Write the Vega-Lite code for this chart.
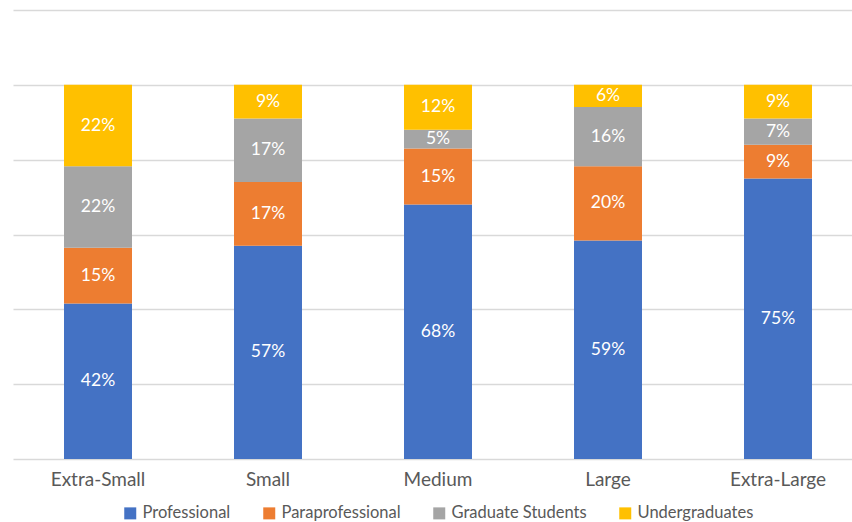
{
  "$schema": "https://vega.github.io/schema/vega-lite/v6.json",
  "autosize": {"type": "none"},
  "padding": {"left": 13, "top": 10, "right": 0, "bottom": 63},
  "width": 850,
  "height": 449,
  "background": "white",
  "data": {
    "values": [
      {"size": "Extra-Small", "group": "Professional", "rank": 1, "share": 0.42},
      {"size": "Extra-Small", "group": "Paraprofessional", "rank": 2, "share": 0.15},
      {"size": "Extra-Small", "group": "Graduate Students", "rank": 3, "share": 0.22},
      {"size": "Extra-Small", "group": "Undergraduates", "rank": 4, "share": 0.22},
      {"size": "Small", "group": "Professional", "rank": 1, "share": 0.57},
      {"size": "Small", "group": "Paraprofessional", "rank": 2, "share": 0.17},
      {"size": "Small", "group": "Graduate Students", "rank": 3, "share": 0.17},
      {"size": "Small", "group": "Undergraduates", "rank": 4, "share": 0.09},
      {"size": "Medium", "group": "Professional", "rank": 1, "share": 0.68},
      {"size": "Medium", "group": "Paraprofessional", "rank": 2, "share": 0.15},
      {"size": "Medium", "group": "Graduate Students", "rank": 3, "share": 0.05},
      {"size": "Medium", "group": "Undergraduates", "rank": 4, "share": 0.12},
      {"size": "Large", "group": "Professional", "rank": 1, "share": 0.59},
      {"size": "Large", "group": "Paraprofessional", "rank": 2, "share": 0.20},
      {"size": "Large", "group": "Graduate Students", "rank": 3, "share": 0.16},
      {"size": "Large", "group": "Undergraduates", "rank": 4, "share": 0.06},
      {"size": "Extra-Large", "group": "Professional", "rank": 1, "share": 0.75},
      {"size": "Extra-Large", "group": "Paraprofessional", "rank": 2, "share": 0.09},
      {"size": "Extra-Large", "group": "Graduate Students", "rank": 3, "share": 0.07},
      {"size": "Extra-Large", "group": "Undergraduates", "rank": 4, "share": 0.09}
    ]
  },
  "transform": [
    {
      "stack": "share",
      "groupby": ["size"],
      "sort": [{"field": "rank", "order": "ascending"}],
      "offset": "normalize",
      "as": ["lo", "hi"]
    },
    {"calculate": "(datum.lo + datum.hi) / 2", "as": "mid"}
  ],
  "encoding": {
    "x": {
      "field": "size",
      "type": "nominal",
      "sort": ["Extra-Small", "Small", "Medium", "Large", "Extra-Large"],
      "scale": {"paddingInner": 0.6, "paddingOuter": 0.3},
      "axis": {
        "title": null,
        "labelAngle": 0,
        "domain": false,
        "ticks": false,
        "labelPadding": 11,
        "labelFont": "Lato",
        "labelFontSize": 19,
        "labelColor": "#595959"
      }
    }
  },
  "layer": [
    {
      "mark": {"type": "bar"},
      "encoding": {
        "y": {
          "field": "lo",
          "type": "quantitative",
          "scale": {"domain": [0, 1.2], "nice": false, "zero": true},
          "axis": {
            "title": null,
            "labels": false,
            "ticks": false,
            "domain": false,
            "values": [0, 0.2, 0.4, 0.6, 0.8, 1.0, 1.2],
            "grid": true,
            "gridColor": "#D9D9D9",
            "gridWidth": 1.3
          }
        },
        "y2": {"field": "hi"},
        "color": {
          "field": "group",
          "type": "nominal",
          "sort": ["Professional", "Paraprofessional", "Graduate Students", "Undergraduates"],
          "scale": {
            "domain": ["Professional", "Paraprofessional", "Graduate Students", "Undergraduates"],
            "range": ["#4472C4", "#ED7D31", "#A5A5A5", "#FFC000"]
          },
          "legend": {
            "title": null,
            "orient": "bottom",
            "direction": "horizontal",
            "symbolType": "square",
            "symbolSize": 144,
            "symbolStrokeWidth": 0,
            "labelFont": "Lato",
            "labelFontSize": 16.5,
            "labelColor": "#595959",
            "columnPadding": 30,
            "labelOffset": 4,
            "offset": 16
          }
        }
      }
    },
    {
      "mark": {"type": "text", "color": "white", "font": "Lato", "fontSize": 17.5, "baseline": "middle"},
      "encoding": {
        "y": {"field": "mid", "type": "quantitative"},
        "text": {"field": "share", "type": "quantitative", "format": ".0%"}
      }
    }
  ],
  "config": {
    "view": {"stroke": null},
    "legend": {"layout": {"bottom": {"anchor": "middle"}}}
  }
}
